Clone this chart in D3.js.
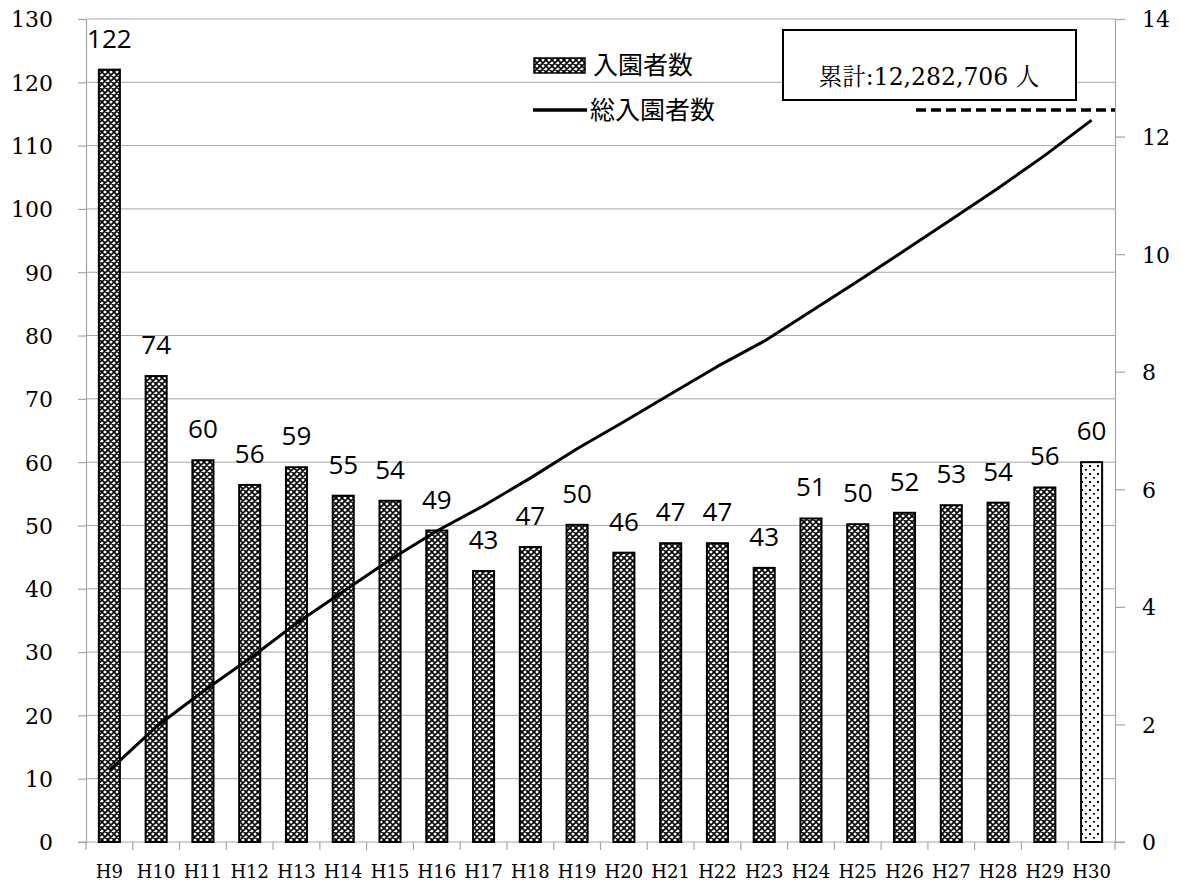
<!DOCTYPE html>
<html>
<head>
<meta charset="utf-8">
<script src="https://cdn.jsdelivr.net/npm/d3@7/dist/d3.min.js"></script>
<style>
  html, body { margin: 0; padding: 0; background: #fff; }
  svg { display: block; }
</style>
</head>
<body>
<script>
// Fiscal years (Heisei era)
const categories = ["H9","H10","H11","H12","H13","H14","H15","H16","H17","H18","H19",
                    "H20","H21","H22","H23","H24","H25","H26","H27","H28","H29","H30"];
// Annual visitors (ten-thousands of people)
const visitors = [122.0, 73.6, 60.3, 56.4, 59.2, 54.7, 53.9, 49.2, 42.8, 46.6, 50.1,
                  45.7, 47.2, 47.2, 43.3, 51.1, 50.2, 52.0, 53.2, 53.6, 56.0, 60.0];
// Cumulative visitors (millions of people)
const cumulative = [1.22, 1.96, 2.56, 3.12, 3.72, 4.26, 4.80, 5.29, 5.72, 6.19, 6.69,
                    7.15, 7.62, 8.09, 8.52, 9.03, 9.54, 10.06, 10.59, 11.12, 11.68, 12.28];
const leftTicks = [0,10,20,30,40,50,60,70,80,90,100,110,120,130];
const rightTicks = [0,2,4,6,8,10,12,14];
const seriesNames = ["入園者数", "総入園者数"];
const totalLabel = "累計:12,282,706 人";
const totalMarker = 12.45;

const W = 1181, H = 884;
const plot = { left: 86, right: 1115, top: 19, bottom: 842 };
const serif = "DejaVu Serif";
const mincho = "Noto Serif CJK JP";
const sans = "Open Sans";
const cjk = "Noto Sans CJK JP";
const gridColor = "#a6a6a6";

const svg = d3.select("body").append("svg")
  .attr("width", W).attr("height", H)
  .attr("viewBox", `0 0 ${W} ${H}`);

// Fill patterns for the bars
const defs = svg.append("defs");
const hatch = defs.append("pattern")
  .attr("id", "hatch").attr("patternUnits", "userSpaceOnUse")
  .attr("width", 6).attr("height", 6);
hatch.append("rect").attr("width", 6).attr("height", 6).attr("fill", "#fff");
hatch.append("path")
  .attr("d", "M0,0L6,6M6,0L0,6M-1,5L1,7M5,-1L7,1M-1,1L1,-1M5,7L7,5")
  .attr("stroke", "#000").attr("stroke-width", 1.6);

const dots = defs.append("pattern")
  .attr("id", "dots").attr("patternUnits", "userSpaceOnUse")
  .attr("width", 8).attr("height", 8);
dots.append("rect").attr("width", 8).attr("height", 8).attr("fill", "#fff");
dots.append("rect").attr("x", 1).attr("y", 1).attr("width", 2).attr("height", 2).attr("fill", "#000");
dots.append("rect").attr("x", 5).attr("y", 5).attr("width", 2).attr("height", 1.5).attr("fill", "#000");

// Scales
const x = d3.scaleBand().domain(categories)
  .range([plot.left, plot.right])
  .paddingInner(0.55).paddingOuter(0.275);
const yL = d3.scaleLinear().domain([0, 130]).range([plot.bottom, plot.top]);
const yR = d3.scaleLinear().domain([0, 14]).range([plot.bottom, plot.top]);

// Horizontal gridlines
svg.append("g").selectAll("line")
  .data(leftTicks.filter(d => d > 0))
  .join("line")
  .attr("x1", plot.left).attr("x2", plot.right)
  .attr("y1", d => yL(d)).attr("y2", d => yL(d))
  .attr("stroke", gridColor).attr("stroke-width", 1);

// Left axis
const axL = svg.append("g")
  .attr("transform", `translate(${plot.left},0)`)
  .call(d3.axisLeft(yL).tickValues(leftTicks).tickSize(8).tickPadding(25).tickSizeOuter(0));
// Right axis
const axR = svg.append("g")
  .attr("transform", `translate(${plot.right},0)`)
  .call(d3.axisRight(yR).tickValues(rightTicks).tickSize(10).tickPadding(17).tickSizeOuter(0));
[axL, axR].forEach(ax => {
  ax.attr("font-family", serif);
  ax.select(".domain").attr("stroke", gridColor).attr("stroke-width", 1.2);
  ax.selectAll(".tick line").attr("stroke", gridColor).attr("stroke-width", 1.2);
  ax.selectAll(".tick text")
    .attr("font-family", serif).attr("font-size", 22).attr("fill", "#000")
    .attr("dy", "0.36em");
});

// Bottom axis: labels at band centres, ticks at band boundaries
const axB = svg.append("g")
  .attr("transform", `translate(0,${plot.bottom})`)
  .call(d3.axisBottom(x).tickSize(0).tickPadding(0).tickSizeOuter(0));
axB.attr("font-family", serif);
axB.select(".domain").remove();
axB.selectAll(".tick text")
  .attr("font-family", serif).attr("font-size", 18).attr("fill", "#000")
  .attr("dy", null).attr("y", 36);
svg.append("line")
  .attr("x1", plot.left - 8).attr("x2", plot.right + 10)
  .attr("y1", plot.bottom).attr("y2", plot.bottom)
  .attr("stroke", gridColor).attr("stroke-width", 1.2);
const gap = (x.step() - x.bandwidth()) / 2;
const boundaries = categories.map(c => x(c) - gap).concat([plot.right]);
svg.append("g").selectAll("line")
  .data(boundaries)
  .join("line")
  .attr("x1", d => d).attr("x2", d => d)
  .attr("y1", plot.bottom).attr("y2", plot.bottom + 8)
  .attr("stroke", gridColor).attr("stroke-width", 1.2);

// Bars
const last = categories.length - 1;
svg.append("g").selectAll("rect")
  .data(visitors)
  .join("rect")
  .attr("x", (d, i) => x(categories[i]))
  .attr("width", x.bandwidth())
  .attr("y", d => yL(d))
  .attr("height", d => yL(0) - yL(d))
  .attr("fill", (d, i) => i === last ? "url(#dots)" : "url(#hatch)")
  .attr("stroke", "#000").attr("stroke-width", 2);

// Value labels
svg.append("g").selectAll("text")
  .data(visitors)
  .join("text")
  .attr("x", (d, i) => x(categories[i]) + x.bandwidth() / 2)
  .attr("y", d => yL(d) - 22)
  .attr("text-anchor", "middle")
  .attr("font-family", sans).attr("font-size", 26).attr("fill", "#000")
  .text(d => d3.format(".0f")(d));

// Cumulative line
const line = d3.line()
  .x((d, i) => x(categories[i]) + x.bandwidth() / 2)
  .y(d => yR(d));
svg.append("path")
  .datum(cumulative)
  .attr("d", line)
  .attr("fill", "none").attr("stroke", "#000").attr("stroke-width", 3)
  .attr("stroke-linejoin", "round");

// Dashed total marker
svg.append("line")
  .attr("x1", plot.right - 199).attr("x2", plot.right)
  .attr("y1", yR(totalMarker)).attr("y2", yR(totalMarker))
  .attr("stroke", "#000").attr("stroke-width", 3.5)
  .attr("stroke-dasharray", "10,5");

// Total annotation box: kanji runs in Mincho, digits in serif
const box = svg.append("g");
box.append("rect")
  .attr("x", 783).attr("y", 30).attr("width", 293).attr("height", 70)
  .attr("fill", "#fff").attr("stroke", "#000").attr("stroke-width", 2);
const runs = totalLabel.match(/[\u3000-\u9fff]+|[^\u3000-\u9fff]+/g);
box.append("text")
  .attr("x", 929).attr("y", 85)
  .attr("text-anchor", "middle")
  .attr("font-size", 23.5).attr("fill", "#000")
  .selectAll("tspan")
  .data(runs)
  .join("tspan")
  .attr("font-family", d => /[\u3000-\u9fff]/.test(d) ? mincho : serif)
  .text(d => d);

// Legend
const legend = svg.append("g");
legend.append("rect")
  .attr("x", 534).attr("y", 58).attr("width", 51).attr("height", 15)
  .attr("fill", "url(#hatch)").attr("stroke", "#000").attr("stroke-width", 1.5);
legend.append("text")
  .attr("x", 593).attr("y", 74)
  .attr("font-family", cjk).attr("font-size", 25).attr("fill", "#000")
  .text(seriesNames[0]);
legend.append("line")
  .attr("x1", 533).attr("x2", 587).attr("y1", 110).attr("y2", 110)
  .attr("stroke", "#000").attr("stroke-width", 3.5);
legend.append("text")
  .attr("x", 590).attr("y", 119)
  .attr("font-family", cjk).attr("font-size", 25).attr("fill", "#000")
  .text(seriesNames[1]);
</script>
</body>
</html>
